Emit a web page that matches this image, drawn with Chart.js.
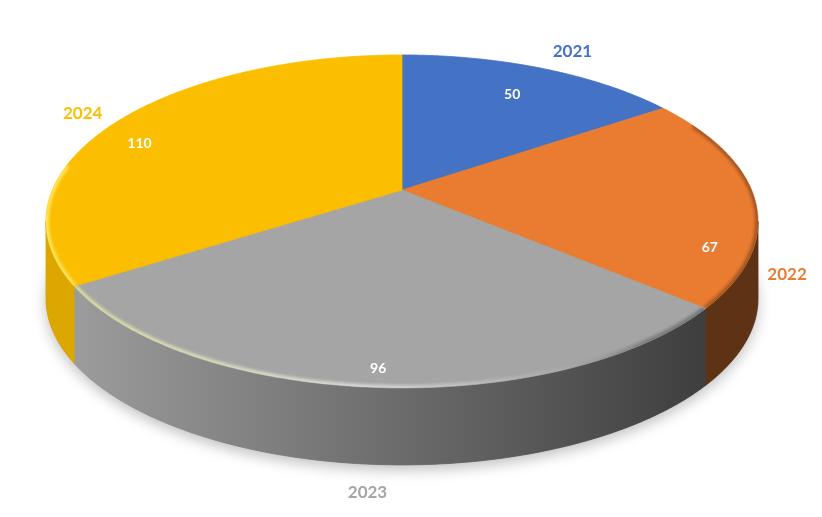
<!DOCTYPE html>
<html>
<head>
<meta charset="utf-8">
<script src="https://cdn.jsdelivr.net/npm/chart.js@4"></script>
<style>
  html, body { margin: 0; padding: 0; background: #fff; }
  canvas { display: block; }
</style>
</head>
<body>
<canvas id="pie" width="822" height="517"></canvas>
<script>
const YEARS = ['2021', '2022', '2023', '2024'];
const COUNTS = [50, 67, 96, 110];

const TOP_COLORS = ['#4472C4', '#EA7C31', '#A5A5A5', '#FBBE00'];
const WALL_COLORS = ['#2F528F', '#5E3214', ['#9C9C9C', '#3E3E3E'], '#DCA700'];

// tilted view: x/y stretch of the radius, perspective, wall height (share of radius)
const VIEW = { sx: 1.84, sy: 0.845, persp: -0.189, depth: 0.405 };

// label placement: [angle shift in degrees, distance as share of radius]
const VALUE_SPOT = [[0, 0.76], [19, 0.89], [-0.4, 0.92], [-7.8, 0.85]];
const NAME_SPOT = [[1.7, 1.18], [22.4, 1.11], [-0.9, 1.39], [-1.3, 1.13]];

function project(arc, r, a, z) {
  const u = r * Math.cos(a);
  const v = r * Math.sin(a);
  const d = 1 + VIEW.persp * v;
  return {
    x: arc.x + VIEW.sx * arc.outerRadius * u / d,
    y: arc.y + VIEW.sy * arc.outerRadius * v / d + (z || 0),
  };
}

function rimPath(ctx, arc, a1, a2, z, first) {
  const steps = Math.max(2, Math.ceil(Math.abs(a2 - a1) / 0.01));
  for (let i = 0; i <= steps; i++) {
    const p = project(arc, 1, a1 + (a2 - a1) * i / steps, z);
    if (i === 0 && first) ctx.moveTo(p.x, p.y);
    else ctx.lineTo(p.x, p.y);
  }
}

function topFace(ctx, arc) {
  ctx.beginPath();
  ctx.moveTo(arc.x, arc.y);
  rimPath(ctx, arc, arc.startAngle, arc.endAngle, 0, false);
  ctx.closePath();
}

const pie3d = {
  id: 'pie3d',
  beforeDatasetsDraw(chart) {
    const ctx = chart.ctx;
    const arcs = chart.getDatasetMeta(0).data;
    const depth = VIEW.depth * arcs[0].outerRadius;
    const f0 = Math.asin(-VIEW.persp);
    const f1 = Math.PI - f0;

    // soft shadow under the disc
    ctx.save();
    ctx.beginPath();
    rimPath(ctx, arcs[0], 0, Math.PI * 2, depth, true);
    ctx.closePath();
    ctx.shadowColor = 'rgba(0,0,0,0.25)';
    ctx.shadowBlur = 14;
    ctx.shadowOffsetY = 5;
    ctx.fillStyle = '#888';
    ctx.fill();
    ctx.restore();

    // front walls
    arcs.forEach((arc, i) => {
      const a1 = Math.max(arc.startAngle, f0);
      const a2 = Math.min(arc.endAngle, f1);
      if (a2 <= a1) return;
      ctx.save();
      ctx.beginPath();
      rimPath(ctx, arc, a1, a2, 0, true);
      rimPath(ctx, arc, a2, a1, depth, false);
      ctx.closePath();
      const c = WALL_COLORS[i];
      if (Array.isArray(c)) {
        const pr = project(arc, 1, a1, 0);
        const pl = project(arc, 1, a2, 0);
        const g = ctx.createLinearGradient(pl.x, 0, pr.x, 0);
        g.addColorStop(0, c[0]);
        g.addColorStop(1, c[1]);
        ctx.fillStyle = g;
      } else {
        ctx.fillStyle = c;
      }
      ctx.fill();
      ctx.strokeStyle = ctx.fillStyle;
      ctx.lineWidth = 0.8;
      ctx.stroke();
      ctx.restore();
    });

    // top faces
    arcs.forEach((arc, i) => {
      ctx.save();
      topFace(ctx, arc);
      ctx.fillStyle = TOP_COLORS[i];
      ctx.fill();
      ctx.strokeStyle = TOP_COLORS[i];
      ctx.lineWidth = 0.8;
      ctx.stroke();
      ctx.restore();
    });

    // bevel along the front rim: light on the left, shade on the right
    const b0 = -0.45;
    const b1 = f1 + 0.35;
    arcs.forEach((arc) => {
      const a1 = Math.max(arc.startAngle, b0);
      const a2 = Math.min(arc.endAngle, b1);
      if (a2 <= a1) return;
      ctx.save();
      topFace(ctx, arc);
      ctx.clip();
      const left = project(arc, 1, Math.PI, 0).x;
      const right = project(arc, 1, 0, 0).x;
      const g = ctx.createLinearGradient(left, 0, right, 0);
      g.addColorStop(0, 'rgba(255,255,150,0.6)');
      g.addColorStop(0.45, 'rgba(255,255,255,0.55)');
      g.addColorStop(0.7, 'rgba(255,255,255,0.1)');
      g.addColorStop(0.85, 'rgba(0,0,0,0.25)');
      g.addColorStop(1, 'rgba(0,0,0,0.3)');
      ctx.filter = 'blur(1.5px)';
      ctx.beginPath();
      rimPath(ctx, arc, a1, a2, 0, true);
      ctx.strokeStyle = g;
      ctx.lineWidth = 6;
      ctx.stroke();
      ctx.restore();
    });

    // labels
    ctx.save();
    ctx.textAlign = 'center';
    ctx.textBaseline = 'middle';
    arcs.forEach((arc, i) => {
      const mid = (arc.startAngle + arc.endAngle) / 2;
      const pv = project(arc, VALUE_SPOT[i][1], mid + VALUE_SPOT[i][0] * Math.PI / 180, 0);
      ctx.font = 'bold 14px Lato, "Open Sans", sans-serif';
      ctx.fillStyle = '#FFFFFF';
      ctx.fillText(String(COUNTS[i]), pv.x, pv.y);
      const pn = project(arc, NAME_SPOT[i][1], mid + NAME_SPOT[i][0] * Math.PI / 180, 0);
      ctx.font = 'bold 17px Lato, "Open Sans", sans-serif';
      ctx.fillStyle = TOP_COLORS[i];
      ctx.fillText(YEARS[i], pn.x, pn.y);
    });
    ctx.restore();
    return false;
  },
};

new Chart(document.getElementById('pie'), {
  type: 'pie',
  data: {
    labels: YEARS,
    datasets: [{
      data: COUNTS,
      backgroundColor: TOP_COLORS,
      borderWidth: 0,
    }],
  },
  options: {
    responsive: false,
    animation: false,
    layout: { padding: { left: 0, right: 18, top: 0, bottom: 137 } },
    plugins: {
      legend: { display: false },
      tooltip: { enabled: false },
    },
  },
  plugins: [pie3d],
});
</script>
</body>
</html>
